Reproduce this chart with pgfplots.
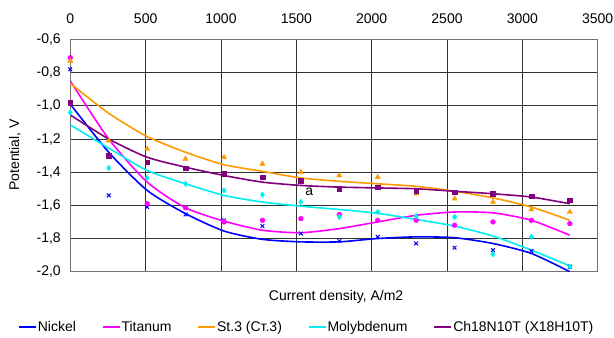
\documentclass[border=0pt]{standalone}
\usepackage{pgfplots}
\usepackage{pgfplotstable}
\pgfplotsset{compat=1.18}
\usepackage{fontspec}
\setmainfont{Liberation Sans}
\newcommand{\fsz}{\fontsize{14bp}{16bp}\selectfont}
\definecolor{cNi}{RGB}{0,0,255}
\definecolor{cTi}{RGB}{255,0,255}
\definecolor{cSt}{RGB}{255,153,0}
\definecolor{cMo}{RGB}{0,240,240}
\definecolor{cCh}{RGB}{128,0,128}
\pgfplotstableread{
x    Ni     Ti     St     Mo     Ch     NiT    TiT    StT    MoT    ChT
0    -0.78  -0.71  -0.73  -1.04  -0.98  -0.99  -0.85  -0.865 -1.115 -1.055
255  -1.54  -1.30  -1.21  -1.375 -1.30  -1.28  -1.20  -1.045 -1.255 -1.20
510  -1.61  -1.59  -1.26  -1.435 -1.34  -1.51  -1.46  -1.185 -1.39  -1.31
765  -1.655 -1.615 -1.32  -1.47  -1.375 -1.65  -1.615 -1.28  -1.47  -1.37
1020 -1.69  -1.70  -1.31  -1.51  -1.41  -1.755 -1.695 -1.355 -1.54  -1.42
1275 -1.725 -1.69  -1.35  -1.535 -1.43  -1.805 -1.75  -1.395 -1.58  -1.46
1530 -1.77  -1.68  -1.40  -1.58  -1.45  -1.82  -1.765 -1.435 -1.605 -1.48
1785 -1.815 -1.655 -1.42  -1.67  -1.50  -1.82  -1.74  -1.455 -1.625 -1.49
2040 -1.79  -1.69  -1.43  -1.64  -1.49  -1.80  -1.70  -1.47  -1.648 -1.495
2295 -1.83  -1.69  -1.53  -1.665 -1.51  -1.79  -1.66  -1.485 -1.685 -1.50
2550 -1.855 -1.72  -1.56  -1.67  -1.52  -1.795 -1.64  -1.515 -1.725 -1.515
2805 -1.87  -1.70  -1.58  -1.895 -1.53  -1.83  -1.645 -1.555 -1.785 -1.53
3060 -1.875 -1.69  -1.625 -1.79  -1.545 -1.89  -1.69  -1.61  -1.87  -1.55
3315 -1.97  -1.71  -1.64  -1.97  -1.57  -2.00  -1.78  -1.69  -1.965 -1.59
}\data
\begin{document}
\begin{tikzpicture}
\begin{axis}[
  scale only axis, width=527.4bp, height=232.2bp,
  xmin=0, xmax=3500, ymin=-2, ymax=-0.6,
  xtick={0,500,1000,1500,2000,2500,3000,3500},
  ytick={-2,-1.8,-1.6,-1.4,-1.2,-1,-0.8,-0.6},
  xticklabel pos=upper,
  grid=major,
  major grid style={black!80, line width=0.8bp},
  axis line style={black!55, line width=1bp},
  major tick length=0pt,
  tick label style={font=\fsz},
  /pgf/number format/assume math mode=true,
  xticklabel style={/pgf/number format/1000 sep={}, yshift=12.5bp},
  yticklabel style={/pgf/number format/.cd, fixed, fixed zerofill, precision=1, use comma, assume math mode=true, /tikz/.cd, xshift=-6bp},
  xlabel={Current density, A/m2},
  ylabel={Potential, V},
  label style={font=\fsz},
  xlabel style={at={(axis description cs:0.504,-0.109)}, anchor=center},
  ylabel style={at={(axis description cs:-0.105,0.503)}, anchor=center},
  legend columns=5,
  legend cell align=left,
  legend style={at={(axis description cs:-0.0992,-0.238)}, anchor=west, draw=none, fill=none, inner sep=0pt, font=\fsz,
    nodes={inner sep=1bp},
    /tikz/every even column/.append style={column sep=25bp}},
  legend image code/.code={\draw[#1] (0bp,0bp) -- (17bp,0bp);},
]
\addplot[only marks, mark=x, mark size=2.6bp, color=cNi, line width=1bp, forget plot] table[x=x,y=Ni]{\data};
\addplot[only marks, mark=*, mark size=2.4bp, color=cTi, forget plot] table[x=x,y=Ti]{\data};
\addplot[only marks, mark=triangle*, mark size=3bp, color=cSt, forget plot] table[x=x,y=St]{\data};
\addplot[only marks, mark=diamond*, mark size=2.8bp, color=cMo, forget plot] table[x=x,y=Mo]{\data};
\addplot[only marks, mark=square*, mark size=2.3bp, color=cCh, forget plot] table[x=x,y=Ch]{\data};
\addplot[smooth, tension=0.4, no marks, color=cNi, line width=1.6bp] table[x=x,y=NiT]{\data};
\addlegendentry{Nickel}
\addplot[smooth, tension=0.4, no marks, color=cTi, line width=1.6bp] table[x=x,y=TiT]{\data};
\addlegendentry{Titanum}
\addplot[smooth, tension=0.4, no marks, color=cSt, line width=1.6bp] table[x=x,y=StT]{\data};
\addlegendentry{St.3 (Ст.3)}
\addplot[smooth, tension=0.4, no marks, color=cMo, line width=1.6bp] table[x=x,y=MoT]{\data};
\addlegendentry{Molybdenum}
\addplot[smooth, tension=0.4, no marks, color=cCh, line width=1.6bp] table[x=x,y=ChT]{\data};
\addlegendentry{Ch18N10T (Х18Н10Т)}
\node[font=\fsz, inner sep=0pt] at (axis cs:1586,-1.519) {a};
\coordinate (BL) at (rel axis cs:-0.1333,-0.2855);
\coordinate (TR) at (rel axis cs:1.0309,1.1701);
\end{axis}
\pgfresetboundingbox
\path[use as bounding box] (BL) rectangle (TR);
\end{tikzpicture}
\end{document}
